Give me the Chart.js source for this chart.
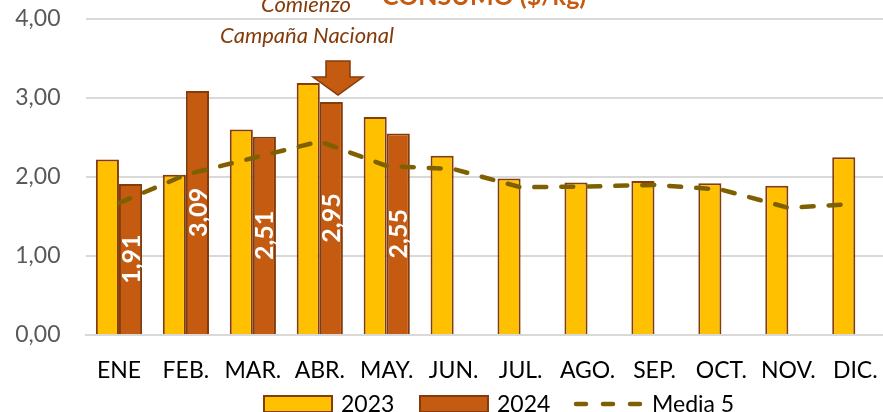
<!DOCTYPE html>
<html>
<head>
<meta charset="utf-8">
<script src="https://cdn.jsdelivr.net/npm/chart.js@4"></script>
<style>
  html, body { margin: 0; padding: 0; overflow: hidden; background: #fff; }
  #wrap { position: relative; width: 900px; height: 430px; }
</style>
</head>
<body>
<div id="wrap"><canvas id="grafico"></canvas></div>
<script>
// meses y valores ($/kg)
const meses = ['ENE', 'FEB.', 'MAR.', 'ABR.', 'MAY.', 'JUN.', 'JUL.', 'AGO.', 'SEP.', 'OCT.', 'NOV.', 'DIC.'];
const valores2023 = [2.22, 2.03, 2.60, 3.19, 2.76, 2.27, 1.98, 1.93, 1.95, 1.92, 1.89, 2.25];
const valores2024 = [1.91, 3.09, 2.51, 2.95, 2.55, null, null, null, null, null, null, null];
const media5 = [1.67, 2.03, 2.24, 2.45, 2.14, 2.10, 1.87, 1.88, 1.90, 1.84, 1.61, 1.66];
const ticksY = [0, 1, 2, 3, 4];

const AMARILLO = '#FFC000';
const NARANJA = '#C55A11';
const MARRON = '#843C0C';
const OLIVA = '#7F6000';

function coma(v) {
  return v.toFixed(2).replace('.', ',');
}

// etiquetas blancas giradas dentro de las barras 2024
const etiquetas = {
  id: 'etiquetas',
  afterDatasetsDraw(chart) {
    const ctx = chart.ctx;
    const meta = chart.getDatasetMeta(1);
    ctx.save();
    ctx.fillStyle = '#fff';
    ctx.font = 'bold 25px Lato';
    ctx.textAlign = 'center';
    ctx.textBaseline = 'middle';
    meta.data.forEach((bar, i) => {
      const v = valores2024[i];
      if (v == null) return;
      const cy = (bar.y + bar.base) / 2;
      ctx.save();
      ctx.translate(bar.x + 1, cy);
      ctx.rotate(-Math.PI / 2);
      ctx.fillText(coma(v), 0, 0);
      ctx.restore();
    });
    ctx.restore();
  }
};

// titulo, nota de la campaña, flecha y leyenda
const adornos = {
  id: 'adornos',
  afterDraw(chart) {
    const ctx = chart.ctx;
    ctx.save();

    ctx.fillStyle = NARANJA;
    ctx.font = 'bold 25px Lato';
    ctx.textAlign = 'left';
    ctx.textBaseline = 'alphabetic';
    ctx.fillText('CONSUMO ($/kg)', 382, 5);

    ctx.fillStyle = MARRON;
    ctx.font = 'italic 22px Lato';
    ctx.textAlign = 'center';
    ctx.fillText('Comienzo', 306, 12);
    ctx.fillText('Campaña Nacional', 307, 43);

    // flecha hacia abajo
    ctx.beginPath();
    ctx.moveTo(326, 61);
    ctx.lineTo(350, 61);
    ctx.lineTo(350, 77);
    ctx.lineTo(363, 77);
    ctx.lineTo(338, 95);
    ctx.lineTo(313, 77);
    ctx.lineTo(326, 77);
    ctx.closePath();
    ctx.fillStyle = NARANJA;
    ctx.fill();
    ctx.lineWidth = 1.5;
    ctx.strokeStyle = MARRON;
    ctx.stroke();

    // leyenda
    ctx.font = '23px Lato';
    ctx.textAlign = 'left';
    ctx.lineWidth = 2;
    ctx.strokeStyle = MARRON;
    ctx.fillStyle = AMARILLO;
    ctx.fillRect(264, 396, 68, 16);
    ctx.strokeRect(264, 396, 68, 16);
    ctx.fillStyle = NARANJA;
    ctx.fillRect(420, 396, 68, 16);
    ctx.strokeRect(420, 396, 68, 16);

    ctx.beginPath();
    ctx.setLineDash([10, 17]);
    ctx.lineCap = 'round';
    ctx.lineWidth = 4.5;
    ctx.strokeStyle = OLIVA;
    ctx.moveTo(576, 404);
    ctx.lineTo(645, 404);
    ctx.stroke();
    ctx.setLineDash([]);

    ctx.fillStyle = '#000';
    ctx.fillText('2023', 341, 412);
    ctx.fillText('2024', 497, 412);
    ctx.fillText('Media 5', 652, 412);
    ctx.restore();
  }
};

new Chart(document.getElementById('grafico'), {
  data: {
    labels: meses,
    datasets: [
      {
        type: 'bar',
        label: '2023',
        data: valores2023,
        backgroundColor: AMARILLO,
        borderColor: MARRON,
        borderWidth: 2,
        barPercentage: 1,
        categoryPercentage: 0.69,
        order: 2
      },
      {
        type: 'bar',
        label: '2024',
        data: valores2024,
        backgroundColor: NARANJA,
        borderColor: MARRON,
        borderWidth: 2,
        barPercentage: 1,
        categoryPercentage: 0.69,
        order: 2
      },
      {
        type: 'line',
        label: 'Media 5',
        data: media5,
        borderColor: OLIVA,
        borderWidth: 4.5,
        borderDash: [12, 15],
        borderCapStyle: 'round',
        pointRadius: 0,
        tension: 0,
        fill: false,
        order: 1
      }
    ]
  },
  options: {
    responsive: true,
    maintainAspectRatio: false,
    animation: false,
    layout: { padding: { top: 19, right: 8, left: 0, bottom: 45 } },
    plugins: {
      legend: { display: false },
      tooltip: { enabled: false }
    },
    scales: {
      x: {
        grid: { display: false, drawTicks: false },
        border: { display: true, color: '#d9d9d9', width: 2 },
        ticks: { color: '#000', font: { family: 'Lato', size: 23 }, padding: 22, maxRotation: 0, autoSkip: false },
        afterFit(scale) { scale.height = 50; }
      },
      y: {
        min: 0,
        max: 4,
        afterBuildTicks(scale) { scale.ticks = ticksY.map(v => ({ value: v })); },
        grid: { color: '#d9d9d9', lineWidth: 2, drawTicks: false },
        border: { display: false },
        ticks: {
          color: '#595959',
          font: { family: 'Lato', size: 23 },
          padding: 25,
          callback: v => coma(v)
        },
        afterFit(scale) {
          scale.width = 85.5;
          scale.paddingTop = 0;
          scale.paddingBottom = 0;
        }
      }
    }
  },
  plugins: [etiquetas, adornos]
});
</script>
</body>
</html>
